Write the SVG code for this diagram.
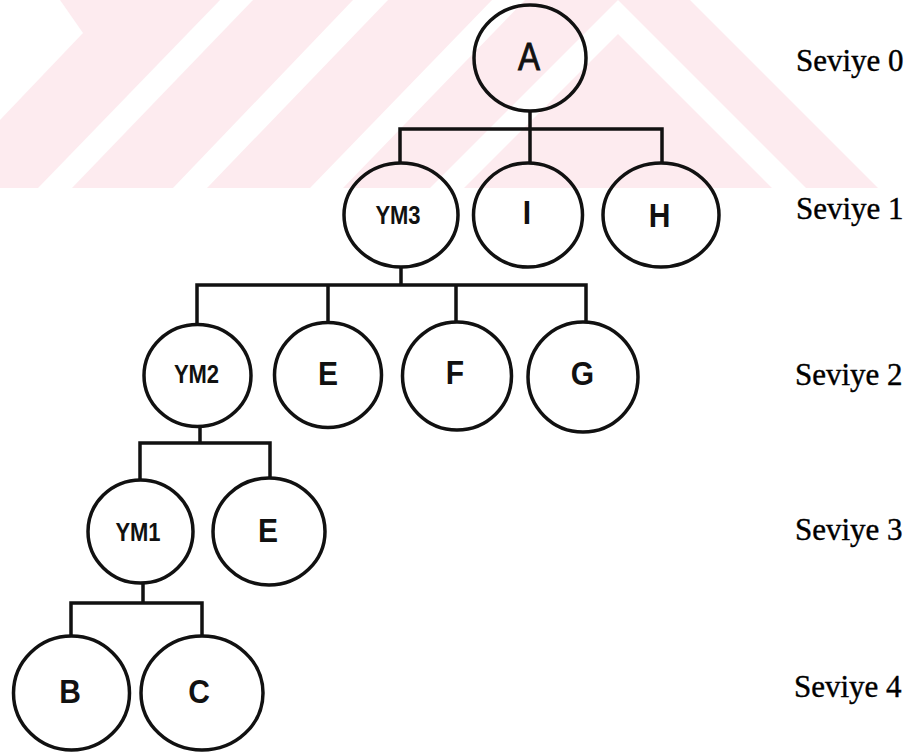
<svg xmlns="http://www.w3.org/2000/svg" width="916" height="755" viewBox="0 0 916 755">
  <style>
    .bg { fill: #ffffff; }
    .wm { fill: #fdebef; }
    .wm-gap { fill: #ffffff; }
    .node { fill: none; stroke: #111111; stroke-width: 3.5; }
    .edge { fill: none; stroke: #111111; stroke-width: 3.5; stroke-linejoin: miter; }
    .lbl { font-family: "Liberation Sans", Arial, sans-serif; font-weight: bold; font-size: 30px; fill: #111111; text-anchor: middle; }
    .lbl-a { font-family: "Liberation Sans", Arial, sans-serif; font-weight: normal; font-size: 33px; fill: #111111; stroke: #111111; stroke-width: 0.8; text-anchor: middle; }
    .lbl-sm { font-family: "Liberation Sans", Arial, sans-serif; font-weight: bold; font-size: 22px; fill: #111111; text-anchor: middle; }
    .level { font-family: "Liberation Serif", "Times New Roman", serif; font-size: 31px; fill: #000000; stroke: #000000; stroke-width: 0.4; }
  </style>

  <rect class="bg" x="0" y="0" width="916" height="755"/>

  <!-- light background band with diagonal stripes -->
  <g id="backdrop">
    <rect class="wm" x="0" y="0" width="916" height="188"/>
    <polygon class="wm-gap" points="0,0 60,0 83,33 0,120"/>
    <polygon class="wm-gap" points="220,0 253,0 72,188 38,188"/>
    <polygon class="wm-gap" points="353,0 388,0 207,188 173,188"/>
    <polygon class="wm-gap" points="492,0 525,0 343,188 310,188"/>
    <polygon class="wm-gap" points="430,188 618,0 806,188 772,188 618,34 464,188"/>
    <polygon class="wm-gap" points="690,0 916,0 916,188 878,188"/>
  </g>

  <!-- connectors -->
  <g id="connectors">
    <path class="edge" d="M530,111 V129 M400,163 V129 H662 V163 M530,129 V163"/>
    <path class="edge" d="M401,267 V285 M197,324 V285 H586 V322 M328,285 V322 M456,285 V322"/>
    <path class="edge" d="M200,426 V443 M140,480 V443 H270 V478"/>
    <path class="edge" d="M143,583 V603 M71,636 V603 H202 V636"/>
  </g>

  <!-- level 0 -->
  <g id="node-A">
    <ellipse class="node" cx="530" cy="58" rx="56" ry="53"/>
    <text class="lbl-a" transform="translate(529,56) scale(1,1.15)" y="11.8">A</text>
  </g>

  <!-- level 1 -->
  <g id="node-YM3">
    <ellipse class="node" cx="401" cy="215" rx="57" ry="52"/>
    <text class="lbl-sm" transform="translate(398,214.5) scale(1,1.2)" y="7.9">YM3</text>
  </g>
  <g id="node-I">
    <ellipse class="node" cx="528" cy="215" rx="54.5" ry="52"/>
    <text class="lbl" transform="translate(527,212) scale(1,1.1)" y="10.7">I</text>
  </g>
  <g id="node-H">
    <ellipse class="node" cx="661" cy="215" rx="58" ry="52"/>
    <text class="lbl" transform="translate(659.5,215) scale(1,1.1)" y="10.7">H</text>
  </g>

  <!-- level 2 -->
  <g id="node-YM2">
    <ellipse class="node" cx="197.5" cy="375.5" rx="53.5" ry="51"/>
    <text class="lbl-sm" transform="translate(196.5,374) scale(1,1.2)" y="7.9">YM2</text>
  </g>
  <g id="node-E2">
    <ellipse class="node" cx="328" cy="375" rx="53.5" ry="52.5"/>
    <text class="lbl" transform="translate(328,373.5) scale(1,1.1)" y="10.7">E</text>
  </g>
  <g id="node-F">
    <ellipse class="node" cx="457" cy="376" rx="54.5" ry="54"/>
    <text class="lbl" transform="translate(455,372) scale(1,1.1)" y="10.7">F</text>
  </g>
  <g id="node-G">
    <ellipse class="node" cx="583" cy="377" rx="55" ry="55"/>
    <text class="lbl" transform="translate(582.5,373) scale(1,1.1)" y="10.7">G</text>
  </g>

  <!-- level 3 -->
  <g id="node-YM1">
    <ellipse class="node" cx="140.5" cy="531.5" rx="52.5" ry="51.5"/>
    <text class="lbl-sm" transform="translate(138,531.5) scale(1,1.2)" y="7.9">YM1</text>
  </g>
  <g id="node-E3">
    <ellipse class="node" cx="269" cy="531.5" rx="56" ry="53.5"/>
    <text class="lbl" transform="translate(268,530) scale(1,1.1)" y="10.7">E</text>
  </g>

  <!-- level 4 -->
  <g id="node-B">
    <ellipse class="node" cx="71.5" cy="693" rx="58" ry="57"/>
    <text class="lbl" transform="translate(70,691.5) scale(1,1.1)" y="10.7">B</text>
  </g>
  <g id="node-C">
    <ellipse class="node" cx="202" cy="693" rx="61" ry="57"/>
    <text class="lbl" transform="translate(199,691) scale(1,1.1)" y="10.7">C</text>
  </g>

  <!-- level captions -->
  <g id="levels">
    <text class="level" x="796" y="71">Seviye 0</text>
    <text class="level" x="796" y="219">Seviye 1</text>
    <text class="level" x="795" y="385">Seviye 2</text>
    <text class="level" x="795" y="540">Seviye 3</text>
    <text class="level" x="794" y="697">Seviye 4</text>
  </g>
</svg>
